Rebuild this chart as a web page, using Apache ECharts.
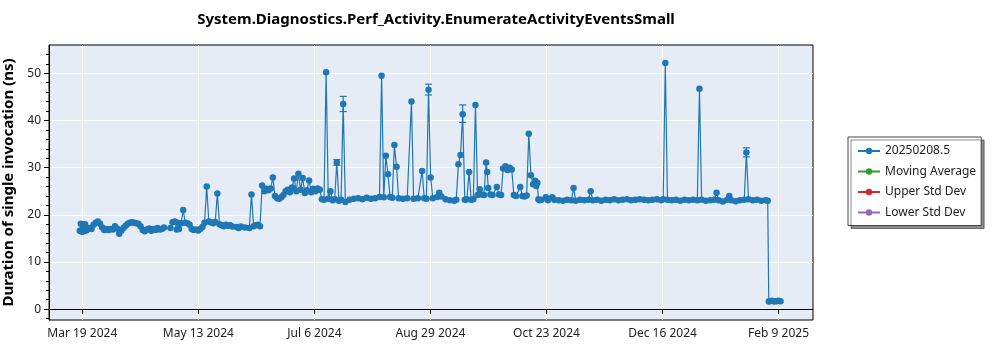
<!DOCTYPE html>
<html>
<head>
<meta charset="utf-8">
<script src="https://cdn.jsdelivr.net/npm/echarts@6/dist/echarts.min.js"></script>
<style>html,body{margin:0;padding:0;background:#fff}#chart{width:1000px;height:350px}</style>
</head>
<body>
<div id="chart"></div>
<script>
const chartTitle = 'System.Diagnostics.Perf_Activity.EnumerateActivityEventsSmall';
const yAxisTitle = 'Duration of single invocation (ns)';
const seriesNames = ['20250208.5', 'Moving Average', 'Upper Std Dev', 'Lower Std Dev'];
const seriesColors = ['#1f77b4', '#2ca02c', '#d62728', '#9467bd'];

const xTickDates = ['2024-03-19T16:48', '2024-05-13T02:24', '2024-07-06T12:00', '2024-08-29T21:36', '2024-10-23T07:12', '2024-12-16T16:48', '2025-02-09T02:24'];
const xTickLabels = ['Mar 19 2024', 'May 13 2024', 'Jul 6 2024', 'Aug 29 2024', 'Oct 23 2024', 'Dec 16 2024', 'Feb 9 2025'];
const xRange = ['2024-03-04T02:00', '2025-02-25T05:30'];
const yTicks = [0, 10, 20, 30, 40, 50];
const yMinorTicks = [-2, 2, 4, 6, 8, 12, 14, 16, 18, 22, 24, 26, 28, 32, 34, 36, 38, 42, 44, 46, 48, 52, 54];
const yRange = [-2.3, 56];

const dates = [
  '2024-03-18T12:00','2024-03-19','2024-03-19T12:00','2024-03-20','2024-03-20T12:00','2024-03-21','2024-03-21T12:00','2024-03-22','2024-03-23','2024-03-24',
  '2024-03-25','2024-03-26','2024-03-27','2024-03-28','2024-03-29','2024-03-30','2024-03-31','2024-04-01','2024-04-02','2024-04-03',
  '2024-04-04','2024-04-05','2024-04-06','2024-04-07','2024-04-08','2024-04-09','2024-04-10','2024-04-11','2024-04-12','2024-04-13',
  '2024-04-14','2024-04-15','2024-04-16','2024-04-17','2024-04-18','2024-04-19','2024-04-20','2024-04-21','2024-04-22','2024-04-23',
  '2024-04-24','2024-04-25','2024-04-26','2024-04-27','2024-04-30','2024-05-01','2024-05-02','2024-05-03','2024-05-03T12:00','2024-05-04',
  '2024-05-05','2024-05-06','2024-05-07','2024-05-08','2024-05-09','2024-05-10','2024-05-11','2024-05-12','2024-05-13','2024-05-14',
  '2024-05-15','2024-05-16','2024-05-17','2024-05-18','2024-05-19','2024-05-20','2024-05-21','2024-05-22','2024-05-23','2024-05-24',
  '2024-05-25','2024-05-26','2024-05-27','2024-05-28','2024-05-29','2024-05-31','2024-06-01','2024-06-02','2024-06-04','2024-06-06',
  '2024-06-07','2024-06-08','2024-06-09','2024-06-10','2024-06-11','2024-06-12','2024-06-13','2024-06-14','2024-06-15','2024-06-16',
  '2024-06-17','2024-06-18','2024-06-19','2024-06-20','2024-06-21','2024-06-22','2024-06-23','2024-06-24','2024-06-25','2024-06-26',
  '2024-06-27','2024-06-28','2024-06-29','2024-06-30','2024-07-01','2024-07-02','2024-07-03','2024-07-04','2024-07-05','2024-07-06',
  '2024-07-07','2024-07-08','2024-07-09','2024-07-10','2024-07-11','2024-07-12','2024-07-13','2024-07-14','2024-07-15','2024-07-16',
  '2024-07-17','2024-07-18','2024-07-19','2024-07-20','2024-07-21','2024-07-23','2024-07-25','2024-07-27','2024-07-29','2024-07-31',
  '2024-08-02','2024-08-04','2024-08-06','2024-08-07','2024-08-08','2024-08-09','2024-08-10','2024-08-11','2024-08-12','2024-08-13',
  '2024-08-14','2024-08-15','2024-08-17','2024-08-19','2024-08-21','2024-08-22','2024-08-24','2024-08-26','2024-08-27','2024-08-28',
  '2024-08-29','2024-08-30','2024-08-31','2024-09-02','2024-09-03','2024-09-04','2024-09-06','2024-09-08','2024-09-10','2024-09-11',
  '2024-09-12','2024-09-13','2024-09-14','2024-09-15','2024-09-16','2024-09-17','2024-09-18','2024-09-19','2024-09-20','2024-09-21',
  '2024-09-22','2024-09-23','2024-09-24','2024-09-25','2024-09-25T12:00','2024-09-26','2024-09-27','2024-09-28','2024-09-30','2024-10-01',
  '2024-10-02','2024-10-03','2024-10-04','2024-10-05','2024-10-06','2024-10-07','2024-10-08','2024-10-09','2024-10-11','2024-10-12',
  '2024-10-13','2024-10-14','2024-10-15','2024-10-16','2024-10-17','2024-10-18','2024-10-18T12:00','2024-10-19','2024-10-19T12:00','2024-10-20',
  '2024-10-21','2024-10-23','2024-10-24','2024-10-26','2024-10-27','2024-10-29','2024-10-31','2024-11-02','2024-11-04','2024-11-05',
  '2024-11-06','2024-11-08','2024-11-10','2024-11-12','2024-11-13','2024-11-14','2024-11-16','2024-11-18','2024-11-20','2024-11-22',
  '2024-11-24','2024-11-26','2024-11-28','2024-11-30','2024-12-02','2024-12-04','2024-12-06','2024-12-08','2024-12-10','2024-12-12',
  '2024-12-14','2024-12-16','2024-12-17','2024-12-18','2024-12-19','2024-12-21','2024-12-23','2024-12-25','2024-12-27','2024-12-29',
  '2024-12-31','2025-01-02','2025-01-03','2025-01-04','2025-01-06','2025-01-08','2025-01-10','2025-01-11','2025-01-12','2025-01-14',
  '2025-01-16','2025-01-17','2025-01-18','2025-01-20','2025-01-22','2025-01-24','2025-01-25','2025-01-26','2025-01-28','2025-01-30',
  '2025-02-01','2025-02-03','2025-02-04','2025-02-04T12:00','2025-02-05','2025-02-06','2025-02-07','2025-02-08','2025-02-09','2025-02-10'
];
const durations = [
  16.6,18.1,16.4,17.9,16.5,18.0,16.7,16.9,17.2,17.0,
  17.9,18.3,18.6,18.1,17.3,16.8,17.0,16.8,17.0,16.9,
  17.6,17.1,16.0,16.6,17.2,17.7,18.1,18.3,18.4,18.3,
  18.2,18.1,17.6,16.8,16.5,16.9,17.1,16.6,17.0,16.8,
  17.2,16.9,17.0,17.3,17.2,18.4,18.6,16.9,18.3,17.0,
  18.2,21.0,18.3,18.2,17.9,17.0,16.8,16.9,16.7,17.0,
  17.4,18.3,26.0,18.6,18.4,18.2,18.5,24.5,18.0,17.8,
  17.6,17.9,17.7,17.8,17.5,17.4,17.2,17.5,17.3,17.2,
  24.3,17.6,17.8,17.9,17.6,26.2,25.0,25.5,25.2,25.6,
  27.9,24.0,23.5,23.4,23.7,24.2,25.0,25.3,24.8,25.8,
  27.7,25.0,28.7,25.3,27.8,24.6,25.2,27.3,24.8,25.5,
  25.0,25.6,25.3,23.3,23.2,50.2,23.4,25.0,23.1,23.3,
  31.1,23.0,23.2,43.5,22.7,23.2,23.4,23.5,23.3,23.6,
  23.4,23.5,23.8,49.5,23.7,32.5,28.6,23.8,23.6,34.8,
  30.2,23.5,23.4,23.5,44.0,23.4,23.5,29.3,23.5,23.4,
  46.5,27.9,23.5,23.8,24.7,23.9,23.3,23.1,23.0,23.2,
  30.7,32.7,41.3,23.2,23.3,29.1,23.2,23.3,43.3,24.2,
  25.4,24.3,24.2,31.1,29.1,25.7,24.3,24.2,25.9,24.3,
  24.2,29.8,30.3,29.5,30.0,29.6,24.2,24.0,25.9,24.0,
  23.9,24.1,37.2,28.4,26.5,27.2,26.1,26.8,23.3,23.1,
  23.2,23.7,23.1,23.7,23.2,23.1,23.0,23.2,23.1,25.7,
  23.0,23.2,23.1,23.2,25.0,23.1,23.2,23.0,23.2,23.1,
  23.3,23.1,23.2,23.3,23.1,23.2,23.3,23.2,23.1,23.2,
  23.3,23.1,23.3,52.2,23.2,23.1,23.2,23.0,23.2,23.1,
  23.2,23.1,46.7,23.2,23.0,23.1,23.2,24.7,23.1,22.8,
  23.2,24.0,23.1,22.9,23.1,23.2,33.2,23.3,23.1,23.2,
  23.0,23.1,23.0,1.6,1.7,1.8,1.6,1.7,1.8,1.7
];

const errDates = ['2024-07-17', '2024-07-20', '2024-08-29', '2024-09-14', '2025-01-25'];
const errLow = [30.5, 41.9, 45.4, 39.6, 32.3];
const errHigh = [31.7, 45.1, 47.7, 43.3, 34.2];

const FONT = 'Noto Sans';
const ts = s => new Date(s.length === 10 ? s + 'T00:00' : s).getTime();
const xTicks = xTickDates.map(ts);

const mainData = dates.map((d, i) => [ts(d), durations[i]]);
const errData = errDates.map((d, i) => [ts(d), errLow[i], errHigh[i]]);

const chart = echarts.init(document.getElementById('chart'), null, {renderer: 'canvas'});
chart.setOption({
  animation: false,
  backgroundColor: '#fff',
  title: {
    text: chartTitle, left: 431, top: 7, textAlign: 'center',
    textStyle: {fontFamily: FONT, fontSize: 15, fontWeight: 'bold', color: '#000'}
  },
  legend: {
    data: seriesNames, orient: 'vertical', left: 848, top: 137,
    padding: [8, 5, 7, 9], itemGap: 8.5, itemWidth: 22, itemHeight: 8,
    textStyle: {fontFamily: FONT, fontSize: 12, color: '#222'},
    backgroundColor: '#fff', borderColor: '#444', borderWidth: 1,
    shadowColor: 'rgba(0,0,0,0.45)', shadowOffsetX: 3, shadowOffsetY: 3, shadowBlur: 0
  },
  grid: {left: 49, right: 187, top: 45, bottom: 30, show: true, backgroundColor: '#e5ecf6', borderColor: '#000', borderWidth: 1, outerBoundsMode: 'none', containLabel: false},
  xAxis: {
    type: 'value', min: ts(xRange[0]), max: ts(xRange[1]), scale: true,
    axisLine: {show: true, lineStyle: {color: '#000', width: 1}},
    axisTick: {show: true, customValues: xTicks, length: 5, lineStyle: {color: '#000'}},
    axisLabel: {customValues: xTicks, color: '#222', fontFamily: FONT, fontSize: 12, margin: 8,
      formatter: v => { const i = xTicks.indexOf(v); return i >= 0 ? xTickLabels[i] : ''; }},
    splitLine: {show: true, lineStyle: {color: '#fff', width: 1}}
  },
  yAxis: [{
    type: 'value', min: yRange[0], max: yRange[1],
    name: yAxisTitle, nameLocation: 'middle', nameGap: 23,
    nameTextStyle: {fontFamily: FONT, fontSize: 15, fontWeight: 'bold', color: '#000'},
    axisLine: {show: true, lineStyle: {color: '#000', width: 1}},
    axisTick: {show: true, customValues: yTicks, length: 5, lineStyle: {color: '#000'}},
    axisLabel: {customValues: yTicks, color: '#222', fontFamily: FONT, fontSize: 12, margin: 8},
    splitLine: {show: true, lineStyle: {color: '#fff', width: 1}}
  }, {
    type: 'value', min: yRange[0], max: yRange[1], position: 'left',
    axisLine: {show: false},
    axisTick: {show: true, customValues: yMinorTicks, length: 3, lineStyle: {color: '#000'}},
    axisLabel: {show: false},
    splitLine: {show: false}
  }],
  series: [
    {
      name: seriesNames[0], type: 'line', data: mainData,
      symbol: 'circle', symbolSize: 6.5, showSymbol: true, showAllSymbol: true,
      lineStyle: {width: 1.2, color: seriesColors[0]}, itemStyle: {color: seriesColors[0]}, z: 3
    },
    {name: seriesNames[1], type: 'line', data: [], symbol: 'circle', symbolSize: 7, lineStyle: {color: seriesColors[1]}, itemStyle: {color: seriesColors[1]}},
    {name: seriesNames[2], type: 'line', data: [], symbol: 'circle', symbolSize: 7, lineStyle: {color: seriesColors[2]}, itemStyle: {color: seriesColors[2]}},
    {name: seriesNames[3], type: 'line', data: [], symbol: 'circle', symbolSize: 7, lineStyle: {color: seriesColors[3]}, itemStyle: {color: seriesColors[3]}},
    {
      name: 'errors', type: 'custom', data: errData, encode: {x: 0, y: [1, 2]}, z: 4,
      renderItem: (params, api) => {
        const x = api.value(0);
        const p1 = api.coord([x, api.value(1)]);
        const p2 = api.coord([x, api.value(2)]);
        const w = 3.5;
        const st = {stroke: seriesColors[0], lineWidth: 1.2};
        return {type: 'group', children: [
          {type: 'line', shape: {x1: p1[0], y1: p1[1], x2: p2[0], y2: p2[1]}, style: st},
          {type: 'line', shape: {x1: p1[0] - w, y1: p1[1], x2: p1[0] + w, y2: p1[1]}, style: st},
          {type: 'line', shape: {x1: p2[0] - w, y1: p2[1], x2: p2[0] + w, y2: p2[1]}, style: st}
        ]};
      }
    }
  ]
});
</script>
</body>
</html>
